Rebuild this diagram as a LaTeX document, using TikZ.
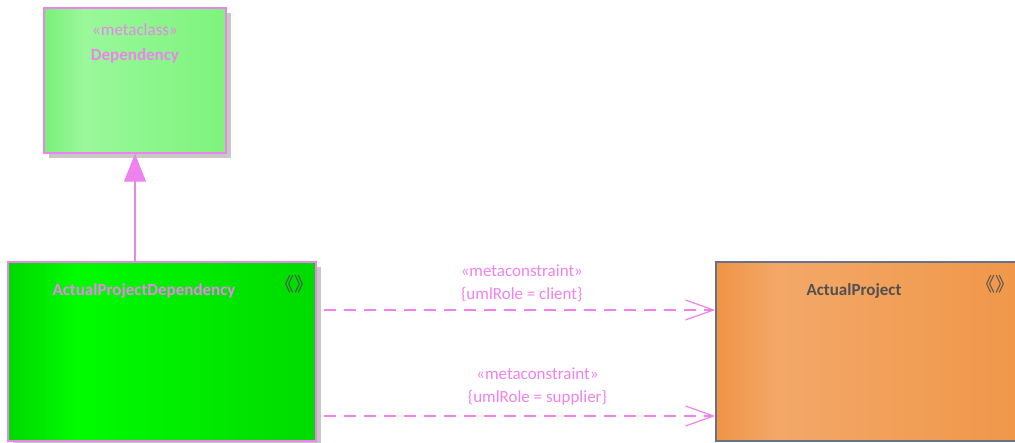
\documentclass[tikz,border=0pt]{standalone}
\usepackage{fontspec}
\setmainfont{Carlito}
\newfontfamily\cjkfont{Noto Sans CJK SC}
\usepackage{tikz}
\usetikzlibrary{positioning,arrows.meta,shadows}

\definecolor{umlviolet}{RGB}{238,130,238}
\definecolor{depL}{RGB}{122,240,122}
\definecolor{depM}{RGB}{154,248,154}
\definecolor{depR}{RGB}{124,244,124}
\definecolor{apdL}{RGB}{0,216,0}
\definecolor{apdM}{RGB}{0,252,0}
\definecolor{apdR}{RGB}{0,218,0}
\definecolor{apL}{RGB}{239,148,70}
\definecolor{apM}{RGB}{243,168,104}
\definecolor{apR}{RGB}{240,150,72}
\definecolor{apborder}{RGB}{100,114,140}
\definecolor{icongray}{RGB}{80,80,80}

\pgfdeclarehorizontalshading{depshade}{100bp}{color(0bp)=(depL); color(25bp)=(depL); color(36bp)=(depM); color(75bp)=(depR); color(100bp)=(depR)}
\pgfdeclarehorizontalshading{apdshade}{100bp}{color(0bp)=(apdL); color(25bp)=(apdL); color(36bp)=(apdM); color(75bp)=(apdR); color(100bp)=(apdR)}
\pgfdeclarehorizontalshading{apshade}{100bp}{color(0bp)=(apL); color(25bp)=(apL); color(35bp)=(apM); color(75bp)=(apR); color(100bp)=(apR)}

\begin{document}
\begin{tikzpicture}[
    x=1pt, y=-1pt,
    font=\fontsize{17}{22}\selectfont,
    metabox/.style={rectangle, draw=umlviolet, line width=1.5pt, inner sep=0pt, shade,
                    drop shadow={shadow xshift=5pt, shadow yshift=-5pt, fill=black!22, opacity=1}},
    classbox/.style={rectangle, draw=apborder, line width=1.5pt, inner sep=0pt, shade},
    title/.style={inner sep=0pt, anchor=base},
    boldtitle/.style={inner sep=0pt, anchor=base, font=\fontsize{17}{22}\selectfont\bfseries},
    icon/.style={inner sep=0pt, font=\cjkfont\fontsize{19}{19}\selectfont, text=icongray},
    genarrow/.style={-{Triangle[length=28pt, width=22pt]}, umlviolet, line width=1.2pt},
    constraint/.style={-{Straight Barb[length=28pt, width=20pt]}, umlviolet, line width=1.2pt,
                       dash pattern=on 12pt off 8pt},
    conlabel/.style={align=center, text=umlviolet, inner sep=0pt, font=\fontsize{17}{23}\selectfont}
]
\clip (0,0) rectangle (1015,443);

% Metaclass
\node[metabox, shading=depshade, minimum width=182pt, minimum height=145pt] (dep) at (135,80.5) {};
\node[title, text=umlviolet] (depstereo) at ([yshift=-28pt]dep.north) {«metaclass»};
\node[boldtitle, text=umlviolet] (depname) at ([yshift=-53pt]dep.north) {Dependency};

% Stereotype and target class
\node[metabox, shading=apdshade, minimum width=308pt, minimum height=179pt] (apd) at (162,351.5) {};
\node[boldtitle, text=umlviolet] (apdname) at ([shift={(-18pt,-34.5pt)}]apd.north) {ActualProjectDependency};
\node[icon] (apdicon) at ([shift={(-22pt,-23pt)}]apd.north east) {《》};

\node[classbox, shading=apshade, minimum width=312pt, minimum height=179pt] (ap) at (872,351.5) {};
\node[boldtitle, text=icongray] (apname) at ([shift={(-18pt,-34.5pt)}]ap.north) {ActualProject};
\node[icon] (apicon) at ([shift={(-33pt,-23pt)}]ap.north east) {《》};

% Extension
\draw[genarrow] (apd.north -| dep.south) -- (dep.south);

% Metaconstraints
\coordinate (cl) at ([shift={(7,-41.5)}]apd.east);
\coordinate (sp) at ([shift={(7,64.5)}]apd.east);
\draw[constraint] (cl) -- node[conlabel, above=8pt, pos=0.506] {«metaconstraint»\\\{umlRole = client\}} (cl -| ap.west);
\draw[constraint] (sp) -- node[conlabel, above=10pt, pos=0.546] {«metaconstraint»\\\{umlRole = supplier\}} (sp -| ap.west);

\end{tikzpicture}
\end{document}
